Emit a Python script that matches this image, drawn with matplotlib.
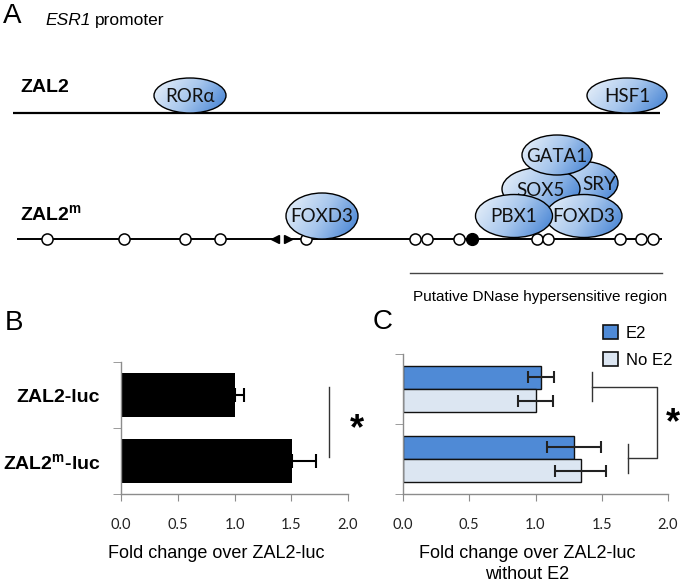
import numpy as np
import matplotlib
matplotlib.use("Agg")
import matplotlib.pyplot as plt
from matplotlib.patches import Ellipse, Patch
from matplotlib.colors import LinearSegmentedColormap

plt.rcParams["font.family"] = ["Liberation Sans", "DejaVu Sans"]
plt.rcParams["mathtext.fontset"] = "custom"
plt.rcParams["mathtext.rm"] = "Liberation Sans"
plt.rcParams["mathtext.it"] = "Liberation Sans:italic"
plt.rcParams["mathtext.bf"] = "Liberation Sans:bold"

# ---- panel A data (diagram units, left to right along the promoter)
zal2_factors = ["RORα", "HSF1"]
zal2_factor_x = [190, 627]
zal2_factor_w = [72, 80]

# listed bottom-most first (draw order)
zal2m_factors = ["FOXD3", "SRY", "SOX5", "GATA1", "FOXD3", "PBX1"]
zal2m_factor_x = [322, 583, 541, 557, 584, 514]
zal2m_factor_y = [216, 183, 189, 155, 216, 216]
zal2m_factor_w = [72, 70, 78, 70, 76, 77]
zal2m_factor_h = [46, 43, 43, 40, 43, 43]
zal2m_label_dx = [0, 16, 0, 0, 0, 0]

open_sites = [47, 124, 185, 220, 306, 415, 427, 459, 537, 548, 620, 641, 653]
filled_sites = [472]
deletion_left, deletion_right = 275, 288
dnase_region = [410, 662]

# ---- panel B data
b_labels = ["ZAL2-luc", "ZAL2$^{\\mathbf{m}}$-luc"]
b_values = [1.0, 1.51]
b_err = [0.08, 0.21]

# ---- panel C data
c_e2 = [1.04, 1.29]
c_e2_err = [0.10, 0.205]
c_noe2 = [1.00, 1.34]
c_noe2_err = [0.135, 0.19]

xticks = [0.0, 0.5, 1.0, 1.5, 2.0]
xtick_labels = ["0.0", "0.5", "1.0", "1.5", "2.0"]

fig = plt.figure(figsize=(6.8, 5.84), dpi=100)
fig.patch.set_facecolor("white")

# Background axes in pixel units for the promoter diagram
bg = fig.add_axes([0, 0, 1, 1])
bg.set_axis_off()

grad_cmap = LinearSegmentedColormap.from_list(
    "tf", ["#e6eff9", "#a8c7ed", "#4784d4"])
gx, gy = np.meshgrid(np.linspace(0, 1, 80), np.linspace(0, 1, 80))
grad = np.clip(0.8 * gx + 0.3 * gy - 0.05, 0, 1)


def factor(name, cx, cy, w, h, z, dx=0):
    ell = Ellipse((cx, cy), w, h, facecolor="none", edgecolor="black",
                  lw=1.0, zorder=z + 0.1)
    bg.add_patch(ell)
    im = bg.imshow(grad, cmap=grad_cmap, vmin=0, vmax=1,
                   extent=(cx - w / 2, cx + w / 2, cy + h / 2, cy - h / 2),
                   origin="upper", aspect="auto", zorder=z,
                   interpolation="bilinear")
    im.set_clip_path(ell)
    bg.text(cx + dx, cy + 1, name, ha="center", va="center", fontsize=13.5,
            family=["Lato", "DejaVu Sans"], color="#111111", zorder=z + 0.2)


# panel letters and titles
bg.text(3, 16, "A", fontsize=20, ha="left", va="center")
esr = bg.text(45, 25, "ESR1", fontsize=12.5, style="italic", ha="left",
              va="baseline")
bg.annotate("promoter", xy=(1, 0), xycoords=esr, xytext=(3, 0),
            textcoords="offset points", fontsize=12.5, ha="left", va="bottom")

# ZAL2 row
bg.text(20, 88, "ZAL2", fontsize=14, fontweight="bold", ha="left", va="center")
bg.plot([13, 660], [113, 113], color="black", lw=1.6, zorder=1,
        solid_capstyle="butt")
for name, x, w in zip(zal2_factors, zal2_factor_x, zal2_factor_w):
    factor(name, x, 95.5, w, 35, 3)

# ZAL2m row
bg.text(20, 214, "ZAL2$^{\\mathbf{m}}$", fontsize=14, fontweight="bold",
        ha="left", va="center")
bg.plot([17, deletion_left], [239, 239], color="black", lw=1.4, zorder=1,
        solid_capstyle="butt")
bg.plot([deletion_right, 662], [239, 239], color="black", lw=1.4, zorder=1,
        solid_capstyle="butt")
bg.plot([deletion_left], [239], marker="<", ms=6, color="black", zorder=2)
bg.plot([deletion_right], [239], marker=">", ms=6, color="black", zorder=2)
bg.plot(open_sites, [239] * len(open_sites), ls="none", marker="o", ms=8,
        mfc="white", mec="black", mew=1.1, zorder=2)
bg.plot(filled_sites, [239] * len(filled_sites), ls="none", marker="o", ms=8.5,
        mfc="black", mec="black", zorder=2)
for i, (name, x, y, w, h, dx) in enumerate(zip(zal2m_factors, zal2m_factor_x,
                                               zal2m_factor_y, zal2m_factor_w,
                                               zal2m_factor_h, zal2m_label_dx)):
    factor(name, x, y, w, h, 3 + i, dx)

bg.plot(dnase_region, [273, 273], color="#444444", lw=1.0)
bg.text(dnase_region[0] + 3, 297, "Putative DNase hypersensitive region",
        fontsize=11, ha="left", va="center")

bg.text(5, 323, "B", fontsize=20, ha="left", va="center")
bg.text(373, 322, "C", fontsize=20, ha="left", va="center")

bg.set_xlim(0, 680)
bg.set_ylim(584, 0)

axis_grey = "#8c8c8c"


def style(ax):
    ax.patch.set_alpha(0)
    for s in ["top", "right"]:
        ax.spines[s].set_visible(False)
    for s in ["left", "bottom"]:
        ax.spines[s].set_color(axis_grey)
        ax.spines[s].set_linewidth(1.0)
    ax.set_xlim(0, 2)
    ax.set_ylim(2, 0)
    ax.set_xticks(xticks, labels=xtick_labels, fontfamily="Lato")
    ax.tick_params(axis="x", length=5, color=axis_grey, pad=12,
                   labelsize=10.5, labelcolor="#222222")
    ax.set_yticks([0, 1, 2], minor=True)
    ax.tick_params(axis="y", which="minor", length=6, color=axis_grey)


# ---- panel B
axb = fig.add_axes([121 / 680, 90 / 584, 227 / 680, 132 / 584])
style(axb)
yb = np.arange(len(b_values)) + 0.5
axb.barh(yb, b_values, height=0.67, color="black", zorder=2)
axb.errorbar(b_values, yb, xerr=[np.zeros(len(b_err)), b_err], fmt="none",
             ecolor="black", elinewidth=1.5, capsize=5, capthick=1.5, zorder=3)
axb.set_yticks(yb, labels=b_labels, fontsize=14, fontweight="bold")
axb.tick_params(axis="y", which="major", length=0, pad=15)
axb.set_xlabel("Fold change over ZAL2-luc", fontsize=13, va="center")
axb.xaxis.set_label_coords(0.42, -0.447)
axb.plot([1.83, 1.83], [0.38, 1.44], color="#333333", lw=1.0, clip_on=False)
axb.text(2.08, 1.02, "*", fontsize=26, fontweight="bold", ha="center",
         va="center", clip_on=False)

# ---- panel C
axc = fig.add_axes([403 / 680, 90 / 584, 265 / 680, 140 / 584])
style(axc)
yc = np.arange(len(c_e2)) + 0.5
bh = 0.33
axc.barh(yc - bh / 2, c_e2, height=bh, color="#4f8ad6", edgecolor="#111111",
         lw=1.0, zorder=2, label="E2")
axc.barh(yc + bh / 2, c_noe2, height=bh, color="#dce6f2", edgecolor="#111111",
         lw=1.0, zorder=2, label="No E2")
axc.errorbar(c_e2, yc - bh / 2, xerr=c_e2_err, fmt="none", ecolor="#222222",
             elinewidth=1.5, capsize=4, capthick=1.5, zorder=3)
axc.errorbar(c_noe2, yc + bh / 2, xerr=c_noe2_err, fmt="none", ecolor="#222222",
             elinewidth=1.5, capsize=4, capthick=1.5, zorder=3)
axc.set_yticks(yc, labels=["", ""])
axc.tick_params(axis="y", which="major", length=0)
axc.set_xlabel("Fold change over ZAL2-luc\nwithout E2", fontsize=13,
               va="center", linespacing=1.25)
axc.xaxis.set_label_coords(0.468, -0.5)

# significance bracket
br = dict(color="#333333", lw=1.0, clip_on=False)
axc.plot([1.43, 1.43], [0.26, 0.67], **br)
axc.plot([1.43, 1.92, 1.92, 1.70], [0.47, 0.47, 1.49, 1.49], **br)
axc.plot([1.70, 1.70], [1.29, 1.70], **br)
axc.text(2.04, 1.0, "*", fontsize=26, fontweight="bold", ha="center",
         va="center", clip_on=False)

handles = [Patch(facecolor="#4f8ad6", edgecolor="#111111", lw=1.2, label="E2"),
           Patch(facecolor="#dce6f2", edgecolor="#111111", lw=1.2, label="No E2")]
fig.legend(handles=handles, loc="upper left",
           bbox_to_anchor=(603 / 680, 1 - 325 / 584), frameon=False,
           fontsize=12, borderpad=0, handlelength=0.9, handleheight=0.9,
           handletextpad=0.45, labelspacing=0.68, borderaxespad=0)

fig.savefig("out.png", dpi=100)
